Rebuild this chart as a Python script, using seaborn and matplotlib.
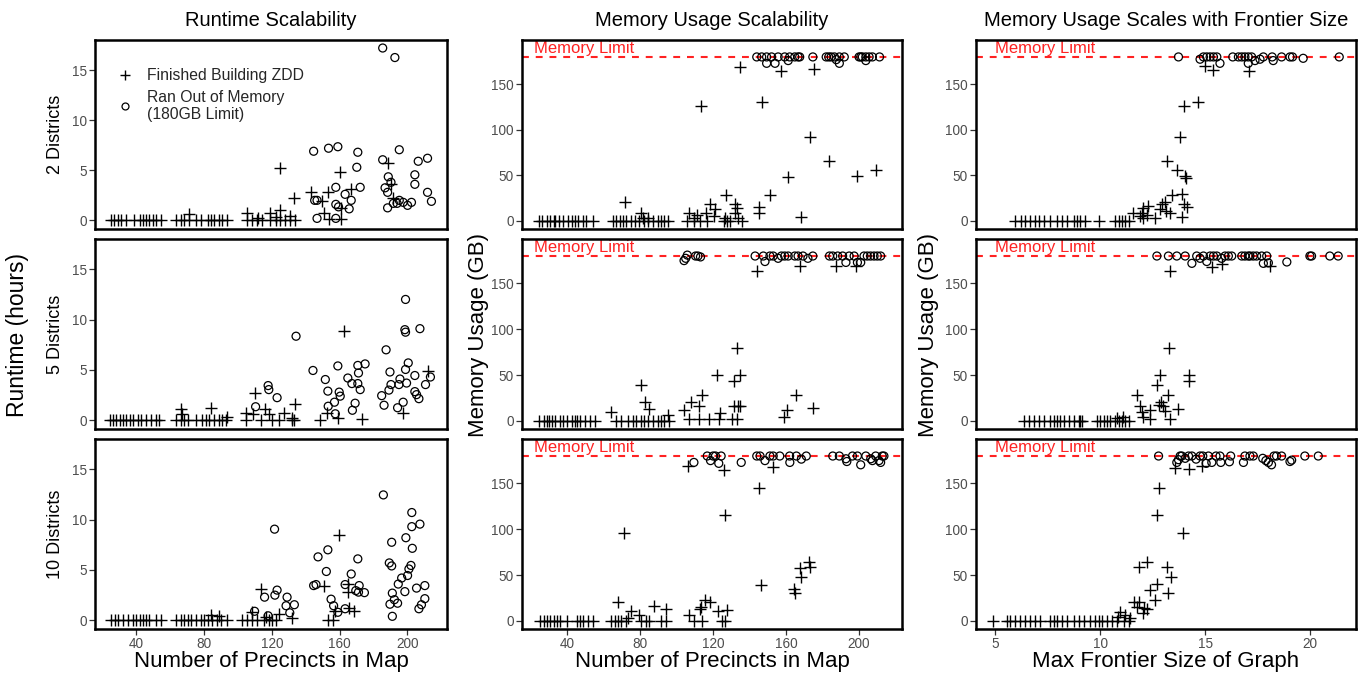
import matplotlib
matplotlib.use("Agg")
import matplotlib.pyplot as plt
import seaborn as sns
from matplotlib.lines import Line2D

# ---------------- data ----------------
# Runtime (hours) vs number of precincts -- 2 districts
rt2_fin_x = [25.1, 27.0, 29.0, 31.0, 34.0, 38.8, 41.8, 43.7, 45.7, 47.6, 49.6, 51.6, 54.5,
             63.3, 66.3, 68.2, 71.2, 75.1, 78.0, 82.0, 84.0, 85.9, 88.8, 90.8, 93.7,
             105.5, 108.4, 111.4, 114.3, 119.2, 122.2, 125.1, 128.0, 131.0, 133.9,
             71.2, 105.5, 112.0, 119.2, 125.1, 125.1, 133.0, 131.0, 122.2,
             143.3, 149.6, 153.0, 150.6, 154.0, 160.4, 161.0, 161.0, 166.9, 188.8, 190.4, 191.8]
rt2_fin_y = [0, 0, 0, 0, 0, 0, 0, 0, 0, 0, 0, 0, 0,
             0, 0, 0, 0, 0, 0, 0, 0, 0, 0, 0, 0,
             0, 0, 0, 0, 0, 0, 0, 0, 0, 0,
             0.6, 0.75, 0.25, 0.75, 1.0, 5.2, 2.2, 0.4, 0.3,
             2.8, 1.9, 2.8, 0.75, 0.1, 4.8, 0.1, 1.25, 3.1, 5.7, 3.6, 2.2]
rt2_oom_x = [144.7, 153.5, 159.0, 170.8, 170.2, 172.2, 157.8, 163.3, 166.9, 165.7, 157.8, 159.4,
             145.3, 146.7, 146.7, 157.8,
             185.5, 192.7, 195.3, 185.5, 206.5, 212.0, 204.5, 204.5, 188.8, 186.9, 188.4, 190.4,
             188.4, 191.8, 195.3, 194.0, 197.6, 200.2, 202.5, 212.0, 214.3]
rt2_oom_y = [6.9, 7.2, 7.35, 6.8, 5.3, 3.3, 3.3, 2.6, 2.0, 1.15, 1.6, 1.35,
             2.0, 2.0, 0.2, 0.2,
             17.2, 16.25, 7.05, 6.05, 5.9, 6.2, 4.55, 3.6, 4.35, 3.25, 2.8, 3.8,
             1.25, 1.7, 2.0, 1.7, 1.8, 1.5, 1.8, 2.8, 1.9]

# Runtime -- 5 districts
rt5_fin_x = [24.1, 26.1, 28.0, 30.0, 32.0, 33.9, 35.9, 37.8, 40.8, 42.7, 45.7, 48.6, 51.6, 53.5,
             63.3, 66.3, 68.2, 70.2, 75.1, 79.0, 81.0, 82.9, 85.9, 88.8, 90.8, 92.7,
             104.5, 113.3, 120.2, 124.1, 132.0, 132.9, 148.6,
             66.3, 66.8, 84.3, 93.7, 104.5, 110.0, 109.0, 115.7, 118.2, 127.0, 133.9, 132.0,
             162.4, 152.5, 159.0, 173.1, 197.6, 212.4]
rt5_fin_y = [0, 0, 0, 0, 0, 0, 0, 0, 0, 0, 0, 0, 0, 0,
             0, 0, 0, 0, 0, 0, 0, 0, 0, 0, 0, 0,
             0, 0, 0, 0, 0, 0, 0,
             1.1, 0.6, 1.2, 0.35, 0.75, 2.7, 0.65, 1.1, 0.65, 0.75, 1.6, 0.25,
             8.85, 0.75, 0.25, 0.15, 0.7, 4.9]
rt5_oom_x = [134.3, 144.3, 151.6, 153.1, 153.3, 159.0, 159.8, 160.4, 157.0, 157.5, 164.9, 167.3,
             170.8, 171.2, 170.8, 175.1, 172.2, 169.2, 167.6, 117.8, 118.2, 110.4, 123.1,
             187.5, 189.8, 190.4, 189.2, 184.9, 186.3, 195.7, 195.1, 194.3, 197.6, 199.0, 198.6,
             199.0, 200.6, 199.0, 199.6, 204.5, 204.5, 205.5, 206.9, 207.5, 210.8, 213.7]
rt5_oom_y = [8.35, 4.95, 4.05, 2.9, 1.4, 5.4, 2.8, 2.4, 1.8, 0.65, 4.2, 3.65,
             3.65, 4.7, 5.45, 5.6, 3.05, 1.7, 1.0, 3.45, 3.05, 1.35, 2.25,
             7.0, 4.8, 3.55, 3.0, 2.45, 1.5, 4.1, 3.55, 1.25, 1.8, 12.0, 9.0,
             8.75, 5.7, 5.05, 3.7, 4.45, 2.85, 2.55, 2.15, 9.1, 3.55, 4.3]

# Runtime -- 10 districts
rt10_fin_x = [25.1, 27.1, 29.0, 32.0, 34.9, 37.8, 39.8, 41.8, 43.7, 45.7, 47.6, 51.6, 54.5,
              63.3, 66.3, 68.2, 70.2, 72.2, 75.1, 78.0, 80.0, 82.0, 84.9, 87.8, 89.8, 93.7,
              102.5, 105.5, 108.4, 111.4, 115.3, 118.2, 120.2, 122.2,
              83.9, 88.8, 113.3, 108.4, 116.3, 124.1, 132.0, 150.6, 159.8, 164.9, 164.9, 165.3,
              168.8, 157.5, 153.1, 156.1]
rt10_fin_y = [0, 0, 0, 0, 0, 0, 0, 0, 0, 0, 0, 0, 0,
              0, 0, 0, 0, 0, 0, 0, 0, 0, 0, 0, 0, 0,
              0, 0, 0, 0, 0, 0, 0, 0,
              0.55, 0.4, 3.1, 0.8, 0.35, 0.65, 0.25, 3.45, 8.5, 3.65, 2.8, 1.2,
              0.95, 0.95, 0.05, 0.05]
rt10_oom_x = [121.6, 109.8, 115.7, 121.8, 123.1, 117.8, 129.0, 128.4, 133.3, 130.6, 147.3, 153.1,
              144.7, 146.1, 152.2, 155.0, 156.5, 159.0, 163.3, 166.9, 170.8, 171.6, 169.6, 171.2,
              174.7, 163.3,
              185.9, 190.8, 189.4, 190.8, 191.2, 189.8, 192.4, 191.2, 194.3, 194.7, 196.7, 199.2,
              198.6, 200.2, 201.0, 202.2, 203.0, 202.7, 202.7, 207.5, 205.5, 210.4, 210.4, 208.4, 206.9]
rt10_oom_y = [9.05, 0.9, 2.3, 2.5, 3.0, 0.45, 2.3, 1.45, 1.55, 0.75, 6.3, 7.0,
              3.45, 3.55, 4.85, 2.1, 1.45, 0.8, 3.55, 4.6, 6.1, 3.45, 2.95, 2.8,
              2.75, 1.15,
              12.45, 7.75, 5.7, 5.4, 2.7, 1.6, 2.05, 0.4, 1.7, 3.6, 4.2, 8.2,
              2.85, 4.45, 5.1, 5.45, 7.15, 9.3, 10.7, 9.55, 3.2, 3.45, 2.15, 1.55, 1.15]

# Memory (GB) vs number of precincts -- 2 districts
mp2_fin_x = [24.6, 26.4, 29.2, 31.0, 32.8, 33.7, 35.5, 38.2, 40.9, 42.7, 44.5, 46.3, 49.0, 50.8, 54.5,
             65.3, 67.1, 68.9, 70.7, 72.5, 75.3, 77.1, 79.8, 82.5, 84.3, 87.0, 89.7, 91.5, 93.3, 95.2,
             106.0, 109.6, 113.2, 116.9, 125.9, 127.7, 129.5, 135.8,
             72.0, 80.7, 81.6, 84.3, 106.9, 109.6, 111.4, 113.6, 116.0, 118.3, 121.4, 120.5,
             127.2, 126.8, 132.2, 133.1, 132.2, 134.0, 134.6, 145.4, 145.4, 146.7, 151.2, 157.0,
             161.2, 168.4, 172.9, 175.1, 183.4, 199.1, 209.1]
mp2_fin_y = [0, 0, 0, 0, 0, 0, 0, 0, 0, 0, 0, 0, 0, 0, 0,
             0, 0, 0, 0, 0, 0, 0, 0, 0, 0, 0, 0, 0, 0, 0,
             0, 0, 0, 0, 0, 0, 0, 0,
             21, 8.4, 3, 3, 8.4, 3, 6.6, 126, 8.4, 18.7, 12.8, 4.8,
             28.5, 3, 18.7, 13.9, 8.4, 3, 168.7, 15.7, 9.1, 131, 28.5, 165,
             47.9, 4, 91.8, 166.5, 66.2, 48.7, 56]
mp2_oom_x = [144.0, 146.7, 149.4, 152.1, 155.7, 159.3, 162.0, 164.8, 166.6, 167.5, 174.7, 182.0,
             183.4, 184.7, 186.5, 189.2, 191.9, 200.0, 200.9, 201.8, 203.7, 205.5, 207.3, 211.2,
             149.4, 154.0, 161.2, 189.2, 203.7, 187.5]
mp2_oom_y = [180, 180, 180, 180, 180, 180, 180, 180, 180, 180, 180, 180,
             180, 180, 180, 180, 180, 180, 180, 180, 180, 180, 180, 180,
             173, 173, 176, 173, 176, 177]

# Memory vs precincts -- 5 districts
mp5_fin_x = [24.6, 27.3, 29.2, 30.1, 31.9, 33.7, 36.4, 38.2, 40.0, 42.7, 44.5, 45.4, 47.2, 49.9, 52.7, 55.4,
             67.1, 69.8, 73.5, 76.2, 78.0, 80.7, 82.5, 84.3, 87.0, 89.7, 91.5, 93.3, 96.1,
             64.4, 80.7, 83.0, 85.2, 95.2, 104.2, 107.8, 112.3, 114.1, 106.9, 112.3, 117.8,
             122.3, 123.2, 124.1, 131.3, 133.1, 134.6, 131.3, 133.5, 134.6, 130.4, 133.1, 144.0,
             158.8, 160.3, 165.3, 174.7, 167.8, 187.4, 198.2]
mp5_fin_y = [0, 0, 0, 0, 0, 0, 0, 0, 0, 0, 0, 0, 0, 0, 0, 0,
             0, 0, 0, 0, 0, 0, 0, 0, 0, 0, 0, 0, 0,
             9.1, 39.5, 21, 12.8, 6.6, 12, 20, 16.5, 28.5, 1.8, 1.8, 1.8,
             49.8, 1.8, 8.4, 43.2, 79, 50.5, 15.7, 15.7, 15.7, 1.8, 1.8, 164,
             4, 12, 28.5, 13.9, 169.4, 168.7, 169.4]
mp5_oom_x = [104.2, 105.1, 106.0, 110.5, 111.8, 113.2,
             143.1, 147.6, 148.5, 151.2, 153.0, 155.7, 157.5, 159.3, 161.2, 164.8, 166.6, 169.3,
             172.0, 174.7,
             183.8, 185.6, 188.3, 191.0, 192.8, 194.6, 197.3, 199.1, 200.9, 202.7, 204.5, 206.3,
             208.2, 210.0, 211.8]
mp5_oom_y = [175, 177.5, 181, 180, 180, 179,
             180, 180, 174, 180, 180, 177.5, 180, 180, 180, 180, 180, 180,
             177.5, 180,
             180, 180, 180, 180, 173, 180, 180, 173, 173, 180, 180, 180,
             180, 180, 180]

# Memory vs precincts -- 10 districts
mp10_fin_x = [25.5, 27.3, 29.1, 31.0, 32.8, 34.6, 36.4, 40.0,
              45.4, 47.2, 49.0, 51.8, 54.5,
              64.4, 66.2, 68.0, 69.8, 72.5,
              80.7, 83.4, 85.2, 91.5, 94.2, 109.6, 114.1, 124.9, 126.8,
              68.0, 71.3, 75.3, 73.5, 79.8, 87.6, 94.2, 106.9, 113.2, 113.6, 115.9, 118.3,
              122.6, 127.7, 126.8, 125.9, 106.5, 145.4, 146.1, 152.7, 164.2, 164.8, 167.5, 168.4,
              172.5, 172.9]
mp10_fin_y = [0, 0, 0, 0, 0, 0, 0, 0,
              0, 0, 0, 0, 0,
              0, 0, 0, 0, 0,
              0, 0, 0, 0, 0, 0, 0, 0, 0,
              20.8, 95.6, 11, 2.6, 6.2, 16, 12.8, 6.2, 12.4, 15.3, 22.6, 20.8,
              11, 11.7, 115.7, 165, 168.6, 145, 39, 167.5, 34.3, 30.7, 58, 48.2,
              64.6, 59.1]
mp10_oom_x = [109.6, 116.9, 118.7, 120.1, 121.4, 123.2, 124.5, 135.5,
              144.0, 145.8, 148.5, 151.2, 153.0, 156.6, 162.1, 162.0, 165.7, 168.4, 171.1,
              185.6, 189.2, 192.8, 193.3, 196.4, 199.1, 200.9, 203.7, 206.4, 207.3, 209.1,
              210.9, 211.8, 212.7, 213.6]
mp10_oom_y = [173, 180, 175, 180, 180, 172, 180, 173,
              180, 180, 175, 180, 180, 180, 173, 180, 180, 176.6, 180,
              180, 180, 177, 174, 180, 180, 170.4, 180, 177, 175, 180,
              175, 173, 180, 180]

# Memory (GB) vs max frontier size -- 2 districts
mf2_fin_x = [5.95, 6.2, 6.43, 6.67, 6.9, 7.06, 7.3, 7.62, 7.94, 8.17, 8.41, 8.73, 8.89, 9.05,
             9.29, 9.92, 10.71, 10.87, 11.03, 11.19, 11.35,
             11.56, 11.9, 11.98, 12.06, 12.06, 12.25, 12.3, 12.62, 12.86, 12.94, 13.1, 13.14,
             13.41, 13.33, 13.17, 13.65, 13.81, 13.89, 13.89, 13.97, 14.0, 14.1, 14.16, 14.05,
             14.68, 15.0, 15.4, 17.1]
mf2_fin_y = [0, 0, 0, 0, 0, 0, 0, 0, 0, 0, 0, 0, 0, 0,
             0, 0, 0, 0, 0, 0, 0,
             9.1, 4.8, 8.4, 13.9, 3, 6.6, 16.5, 3, 12.8, 18.7, 21, 11.3,
             28.5, 8.4, 66.2, 55.3, 91.8, 29.6, 4, 126, 18.7, 46.8, 15, 48.7,
             131, 170, 165.8, 165]
mf2_oom_x = [13.73, 14.76, 14.92, 15.08, 15.24, 15.4, 15.56, 15.71, 16.32, 16.59, 16.75, 16.9,
             17.06, 17.06, 17.22, 17.38, 17.62, 17.78, 18.25, 18.2, 18.65, 19.05, 19.17, 19.68, 21.4]
mf2_oom_y = [180, 177.5, 180, 180, 180, 180, 180, 173, 180, 180, 180, 180,
             180, 173, 180, 176, 177.5, 180, 176, 180, 180, 180, 180, 178.5, 180]

# Memory vs frontier -- 5 districts
mf5_fin_x = [6.35, 6.59, 6.83, 7.06, 7.3, 7.62, 7.78, 7.94, 8.1, 8.25, 8.49, 8.73, 8.97, 9.05,
             9.13, 9.84, 10.0, 10.16, 10.32, 10.48, 10.71, 10.87, 11.03, 11.19, 11.35,
             10.79, 11.1, 11.75, 11.9, 11.98, 12.06, 12.35, 12.38, 12.7, 12.78, 12.86, 12.89,
             12.98, 13.1, 13.21, 13.3, 13.33, 13.33, 13.73, 14.25, 14.25, 15.32, 15.79, 18.1]
mf5_fin_y = [0, 0, 0, 0, 0, 0, 0, 0, 0, 0, 0, 0, 0, 0,
             0, 0, 0, 0, 0, 0, 0, 0, 0, 0, 0,
             2.9, 4, 28.5, 15.7, 9.1, 4, 12, 1.8, 39.5, 16.8, 50.5, 21,
             15.7, 10.2, 28.5, 79, 1.8, 164, 13.2, 50.5, 43.2, 167.6, 171.2, 169.4]
mf5_oom_x = [12.7, 13.25, 13.65, 14.05, 14.37, 14.6, 14.76, 14.92, 15.08, 15.24, 15.4, 15.56,
             15.79, 15.95, 16.11, 16.27, 16.75, 16.9, 17.06, 17.14, 17.3, 17.46, 17.7, 17.78,
             17.94, 18.02, 18.9, 20.0, 20.08, 20.95, 21.35]
mf5_oom_y = [180, 180, 180, 180, 172, 180, 177.5, 180, 174, 180, 180, 180,
             177.5, 180, 180, 180, 180, 180, 180, 180, 180, 180, 180, 172,
             180, 172.5, 173.5, 180, 180, 180, 180]

# Memory vs frontier -- 10 districts
mf10_fin_x = [4.89, 5.56, 5.71, 5.95, 6.19, 6.43, 6.67, 6.9, 7.14, 7.62, 7.78, 7.94, 8.17,
              8.41, 8.73, 8.97, 9.21, 9.52, 9.76, 9.92, 10.08, 10.32, 10.56, 10.79, 11.11, 11.35,
              10.92, 10.83, 11.19, 11.4, 11.59, 11.83, 11.87, 11.75, 12.06, 12.1, 12.25, 12.22,
              12.35, 12.62, 12.7, 12.7, 12.78, 13.17, 13.37, 13.25, 13.57, 13.94, 14.25, 14.84]
mf10_fin_y = [0, 0, 0, 0, 0, 0, 0, 0, 0, 0, 0, 0, 0,
              0, 0, 0, 0, 0, 0, 0, 0, 0, 0, 0, 0, 0,
              9.9, 4.4, 6.2, 2.6, 20.8, 58.4, 20.8, 14.6, 8, 13.5, 64.6, 12.4,
              33.6, 22.6, 39.8, 115.7, 145, 59, 48.2, 30.7, 166.8, 95.6, 165.7, 168.6]
mf10_oom_x = [12.78, 13.65, 13.73, 13.81, 13.89, 14.05, 14.21, 14.37, 14.57, 14.76, 14.89, 15.05,
              15.16, 15.32, 15.52, 15.71, 15.75, 16.16, 16.22, 16.83, 16.9, 17.14, 17.3, 17.75,
              17.9, 18.02, 18.17, 18.29, 18.41, 18.65, 19.05, 19.13, 19.76, 20.4]
mf10_oom_y = [180, 173, 176, 180, 180, 177.5, 180, 180, 176.6, 180, 180, 172,
              180, 173, 180, 180, 173, 173.7, 180, 173, 180, 180, 180, 177.5,
              175, 173, 170.4, 180, 180, 180, 174, 175.5, 180, 180]

row_labels = ["2 Districts", "5 Districts", "10 Districts"]
col_titles = ["Runtime Scalability", "Memory Usage Scalability",
              "Memory Usage Scales with Frontier Size"]
x_titles = ["Number of Precincts in Map", "Number of Precincts in Map",
            "Max Frontier Size of Graph"]
legend_labels = ["Finished Building ZDD", "Ran Out of Memory\n(180GB Limit)"]
memory_limit = 180

panels = [
    [(rt2_fin_x, rt2_fin_y, rt2_oom_x, rt2_oom_y),
     (mp2_fin_x, mp2_fin_y, mp2_oom_x, mp2_oom_y),
     (mf2_fin_x, mf2_fin_y, mf2_oom_x, mf2_oom_y)],
    [(rt5_fin_x, rt5_fin_y, rt5_oom_x, rt5_oom_y),
     (mp5_fin_x, mp5_fin_y, mp5_oom_x, mp5_oom_y),
     (mf5_fin_x, mf5_fin_y, mf5_oom_x, mf5_oom_y)],
    [(rt10_fin_x, rt10_fin_y, rt10_oom_x, rt10_oom_y),
     (mp10_fin_x, mp10_fin_y, mp10_oom_x, mp10_oom_y),
     (mf10_fin_x, mf10_fin_y, mf10_oom_x, mf10_oom_y)],
]

# ---------------- figure ----------------
sns.set_theme(style="ticks")
plt.rcParams['font.family'] = ['Liberation Sans', 'DejaVu Sans']

W, H = 1364, 677
fig = plt.figure(figsize=(W / 100, H / 100), dpi=100)

col_px = [(95, 447), (522, 902), (976, 1356)]
row_px = [(40, 229), (239, 429), (439, 629)]
xlims = [(15.5, 223.5), (15.5, 223.5), (4.07, 22.2)]
ylims = [(-0.86, 18.0), (-9.0, 198.6), (-9.0, 198.6)]
xticks = [[40, 80, 120, 160, 200], [40, 80, 120, 160, 200], [5, 10, 15, 20]]
yticks = [[0, 5, 10, 15], [0, 50, 100, 150], [0, 50, 100, 150]]
limit_text_x = [None, 22.0, 5.0]

TICK_GREY = '#4D4D4D'
LIMIT_RED = '#FF2222'

for r in range(3):
    for c in range(3):
        x0, x1 = col_px[c]
        y0, y1 = row_px[r]
        ax = fig.add_axes([x0 / W, 1 - y1 / H, (x1 - x0) / W, (y1 - y0) / H])
        fx, fy, ox, oy = panels[r][c]

        if c > 0:
            ax.axhline(memory_limit, color=LIMIT_RED, ls=(0, (3.3, 3.3)), lw=1.5, zorder=1)
            ax.text(limit_text_x[c], memory_limit + 4, 'Memory Limit', color=LIMIT_RED,
                    fontsize=12, ha='left', va='baseline', zorder=2)

        sns.scatterplot(x=fx, y=fy, ax=ax, marker='+', s=85, color='black', linewidth=1.0, zorder=3)
        sns.scatterplot(x=ox, y=oy, ax=ax, marker='o', s=33, color='black',
                        facecolor='none', edgecolor='black', linewidth=0.9, zorder=3)

        ax.set_xlim(*xlims[c])
        ax.set_ylim(*ylims[c])
        ax.set_xticks(xticks[c])
        ax.set_yticks(yticks[c])
        ax.set_xlabel('')
        ax.set_ylabel('')
        for sp in ax.spines.values():
            sp.set_visible(True)
            sp.set_linewidth(1.8)
            sp.set_color('black')
        ax.tick_params(direction='out', length=4, width=0.9, color='#333333',
                       labelsize=9.8, labelcolor=TICK_GREY, pad=2)
        if r < 2:
            ax.tick_params(axis='x', bottom=False, labelbottom=False)

        if r == 0 and c == 0:
            handles = [Line2D([], [], ls='none', marker='+', ms=7.5, mew=1.0, color='black'),
                       Line2D([], [], ls='none', marker='o', ms=5, mew=0.9, mfc='none', mec='black')]
            ax.legend(handles, legend_labels, loc='upper left', bbox_to_anchor=(0.062, 0.85),
                      frameon=False, fontsize=11.3, handlelength=1.0, handletextpad=0.9,
                      labelspacing=0.4, borderpad=0, borderaxespad=0)


def ftext(x, y, s, **kw):
    fig.text(x / W, 1 - y / H, s, ha='center', va='center', color='black', **kw)


for c in range(3):
    cx = (col_px[c][0] + col_px[c][1]) / 2
    ftext(cx, 20, col_titles[c], fontsize=14.5)
    ftext(cx, 662, x_titles[c], fontsize=16)

for r in range(3):
    cy = (row_px[r][0] + row_px[r][1]) / 2
    ftext(55, cy, row_labels[r], fontsize=13, rotation=90)

ftext(18, 335, 'Runtime (hours)', fontsize=16.5, rotation=90)
ftext(478, 335, 'Memory Usage (GB)', fontsize=16, rotation=90)
ftext(929, 335, 'Memory Usage (GB)', fontsize=16, rotation=90)

fig.savefig('out.png', dpi=100)
